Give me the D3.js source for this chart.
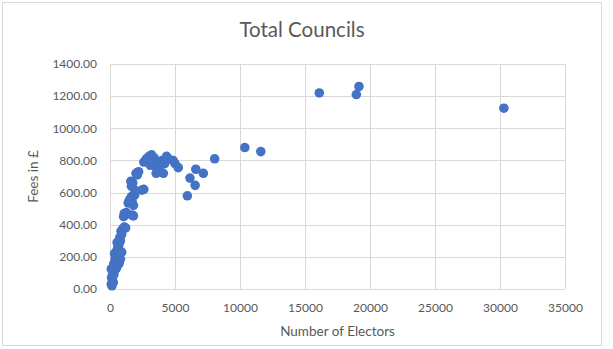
<!DOCTYPE html>
<html><head><meta charset="utf-8">
<script src="https://cdn.jsdelivr.net/npm/d3@7"></script>
<style>
html,body{margin:0;padding:0;background:#fff;}
svg{display:block;font-family:Lato,"Open Sans",sans-serif;}
</style></head>
<body><svg id="c" width="613" height="349"></svg>
<script>
const title = "Total Councils";
const xTitle = "Number of Electors";
const yTitle = "Fees in £";
const xTicks = [0,5000,10000,15000,20000,25000,30000,35000];
const yTicks = [0,200,400,600,800,1000,1200,1400];
const electors = [100,150,200,250,120,300,180,250,100,400,350,500,600,300,450,700,400,550,800,350,500,650,900,600,700,550,800,750,900,850,1000,1100,1200,
 1050,1150,1250,1100,1800,1700,1400,1550,1700,1800,1500,1650,1900,1650,1750,1600,1900,2600,2450,2000,2200,2100,
 2600,2800,3000,3200,3400,3300,3100,2900,3600,3550,3850,4100,3800,4000,4350,4500,4850,5000,5250,3700,4200,
 5950,6150,6550,6600,7180,8050,
 10370,11600,16100,18950,19150,30300];
const fees = [30,20,50,40,70,90,110,130,125,120,140,130,150,160,170,160,190,200,185,220,235,240,230,260,280,290,300,320,340,360,375,385,380,
 450,460,475,470,455,460,535,540,545,520,555,575,585,640,660,670,615,620,615,720,730,710,
 790,810,825,835,815,780,770,800,750,720,730,720,770,800,825,810,800,780,755,790,780,
 580,690,645,745,720,810,
 880,855,1220,1210,1260,1125];

const svg = d3.select("#c");
const W = 613, H = 349;
const m = {left:110, right:W-565, top:64, bottom:H-289};
const x = d3.scaleLinear().domain([0,35000]).range([m.left, W-m.right]);
const y = d3.scaleLinear().domain([0,1400]).range([H-m.bottom, m.top]);
const grey = "#595959", grid = "#d9d9d9";

svg.append("rect").attr("x",2.5).attr("y",2.5).attr("width",599).attr("height",343)
  .attr("fill","#fff").attr("stroke",grid).attr("stroke-width",1);

// grid
svg.append("g").selectAll("line").data(yTicks).join("line")
  .attr("x1",x(0)).attr("x2",x(35000))
  .attr("y1",d=>Math.round(y(d))+0.5).attr("y2",d=>Math.round(y(d))+0.5)
  .attr("stroke",grid).attr("stroke-width",1);
svg.append("g").selectAll("line").data(xTicks).join("line")
  .attr("y1",y(0)).attr("y2",y(1400))
  .attr("x1",d=>Math.round(x(d))+0.5).attr("x2",d=>Math.round(x(d))+0.5)
  .attr("stroke",grid).attr("stroke-width",1);

// axes
const yAxis = d3.axisLeft(y).tickValues(yTicks).tickFormat(d3.format(".2f")).tickSize(0).tickPadding(13);
const gy = svg.append("g").attr("transform",`translate(${m.left},0)`).call(yAxis);
gy.select(".domain").remove();
gy.selectAll("text").attr("fill",grey).style("font-size","12px").style("font-family","Lato,sans-serif");

const xAxis = d3.axisBottom(x).tickValues(xTicks).tickFormat(d3.format("d")).tickSize(0).tickPadding(14);
const gx = svg.append("g").attr("transform",`translate(0,${y(0)})`).call(xAxis);
gx.select(".domain").remove();
gx.selectAll("text").attr("fill",grey).style("font-size","12px").style("font-family","Lato,sans-serif");

// points
svg.append("g").selectAll("circle").data(electors.map((e,i)=>[e,fees[i]])).join("circle")
  .attr("cx",d=>x(d[0])).attr("cy",d=>y(d[1])).attr("r",4.8)
  .attr("fill","#4472C4");

// titles
svg.append("text").attr("x",302).attr("y",37).attr("text-anchor","middle")
  .attr("fill",grey).style("font-size","20.5px").text(title);
svg.append("text").attr("x",(x(0)+x(35000))/2).attr("y",336).attr("text-anchor","middle")
  .attr("fill",grey).style("font-size","13.5px").text(xTitle);
svg.append("text").attr("transform",`translate(38,${(y(0)+y(1400))/2}) rotate(-90)`).attr("text-anchor","middle")
  .attr("fill",grey).style("font-size","13.5px").text(yTitle);
</script></body></html>
